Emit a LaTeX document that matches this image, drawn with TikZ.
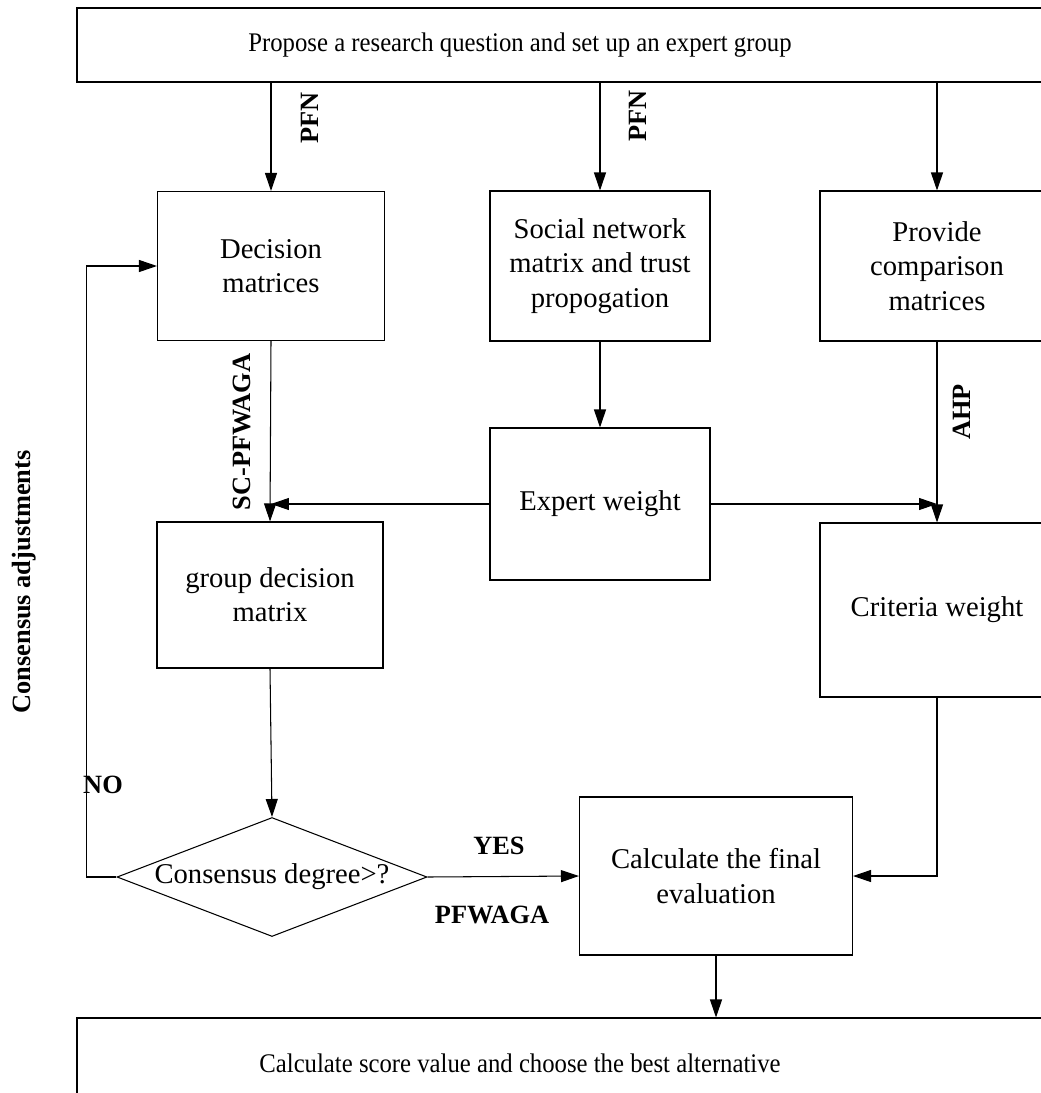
\documentclass[tikz,border=0pt]{standalone}
\usepackage{fontspec}
\setmainfont{Liberation Serif}
\usetikzlibrary{shapes.geometric,arrows.meta}

\tikzset{
  blk/.style={draw, rectangle, align=center, inner sep=0pt, font=\fontsize{16.3}{19.5}\selectfont},
  txt/.style={align=center, inner sep=0pt, xscale=0.92, transform shape, font=\fontsize{15.3}{19}\selectfont},
  lbl/.style={inner sep=0pt, font=\fontsize{15}{18}\selectfont\bfseries},
  arr/.style={-{Triangle[length=0.36cm,width=0.24cm]}},
}

\begin{document}
\begin{tikzpicture}[x=0.02cm,y=-0.02cm,line width=0.6pt]
  \def\u{0.02cm}
  \clip (0,0) rectangle (1041,1093);
  % boxes
  \node[blk, minimum width=1003*\u, minimum height=74*\u] (top) at (578.5,45) {};
  \node[txt] (toptxt) at (520,45) {Propose a research question and set up an expert group};
  \node[blk, minimum width=227*\u, minimum height=149*\u] (dm) at (271,266) {Decision\\matrices};
  \node[blk, minimum width=220*\u, minimum height=150*\u] (sn) at (600,266) {Social network\\matrix and trust\\propogation};
  \node[blk, minimum width=234*\u, minimum height=150*\u] (pc) at (937,266) {Provide\\comparison\\matrices};
  \node[blk, minimum width=220*\u, minimum height=152*\u] (ew) at (600,504) {Expert weight};
  \node[blk, minimum width=226*\u, minimum height=146*\u] (gd) at (270,595) {group decision\\matrix};
  \node[blk, minimum width=234*\u, minimum height=174*\u] (cw) at (937,610) {Criteria weight};
  \node[draw, diamond, inner sep=0pt, aspect=2.6, minimum width=310*\u, minimum height=119*\u,
        font=\fontsize{16.3}{19}\selectfont] (dia) at (272,877) {Consensus degree>?};
  \node[blk, minimum width=273*\u, minimum height=158*\u] (cf) at (716,876) {Calculate the final\\evaluation};
  \node[blk, minimum width=1003*\u, minimum height=110*\u] (bot) at (578.5,1073) {};
  \node[txt] (bottxt) at (520,1063) {Calculate score value and choose the best alternative};
  % connectors
  \draw[arr] (dm.north |- top.south) -- (dm.north);
  \draw[arr] (sn.north |- top.south) -- (sn.north);
  \draw[arr] (pc.north |- top.south) -- (pc.north);
  \draw[arr] (sn.south) -- (ew.north);
  \draw[arr] (ew.west) -- (ew.west -| dm.south);
  \draw[arr] (ew.east) -- (ew.east -| pc.south);
  \draw[arr] (dm.south) -- (gd.north);
  \draw[arr] (pc.south) -- (cw.north);
  \draw[arr] (gd.south) -- (dia.north);
  \draw[arr] (dia.east) -- (cf.west);
  \draw[arr] (cw.south) |- (cf.east);
  \draw[arr] (cf.south) -- (cf.south |- bot.north);
  \draw[arr] (dia.west) -- ++(-30,0) |- (dm.west);
  % labels
  \node[lbl, rotate=90] (pfn1) at (310,118) {PFN};
  \node[lbl, rotate=90] (pfn2) at (638,116) {PFN};
  \node[lbl, rotate=90] (scp) at (242,432) {SC-PFWAGA};
  \node[lbl, rotate=90] (ahp) at (962,412) {AHP};
  \node[lbl] (no) at (103,785) {NO};
  \node[lbl] (yes) at (499,846) {YES};
  \node[lbl] (pfw) at (492,915) {PFWAGA};
  \node[lbl, rotate=90] (cadj) at (24,582) {Consensus adjustments};
\end{tikzpicture}
\end{document}
